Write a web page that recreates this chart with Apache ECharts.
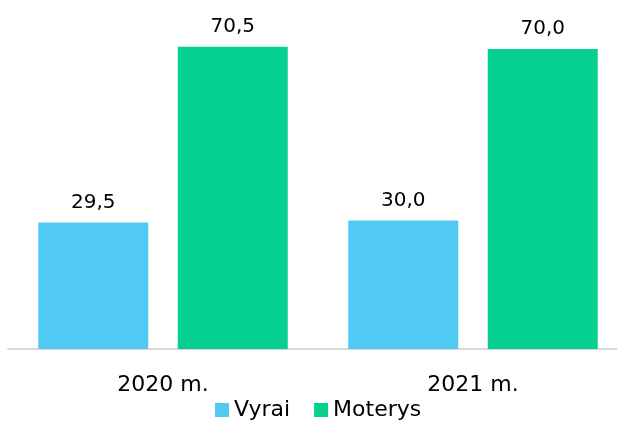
<!DOCTYPE html>
<html>
<head>
<meta charset="utf-8">
<script src="https://cdn.jsdelivr.net/npm/echarts@6/dist/echarts.min.js"></script>
<style>
  html, body { margin: 0; padding: 0; background: #fff; overflow: hidden; }
  #chart { width: 628px; height: 423px; }
</style>
</head>
<body>
<div id="chart"></div>
<script>
// duomenys
const categories = ['2020 m.', '2021 m.'];
const vyrai = [29.5, 30.0];
const moterys = [70.5, 70.0];

const chart = echarts.init(document.getElementById('chart'));

const fmt = (p) => p.value.toFixed(1).replace('.', ',');

const option = {
  animation: false,
  textStyle: { fontFamily: 'DejaVu Sans' },
  legend: {
    left: 215,
    top: 399,
    padding: 0,
    itemWidth: 14,
    itemHeight: 14,
    itemGap: 24,
    icon: 'rect',
    textStyle: { fontSize: 22, color: '#000', fontFamily: 'DejaVu Sans' },
    data: ['Vyrai', 'Moterys'],
  },
  grid: {
    left: 8,
    right: 0,
    top: 6,
    bottom: 74,
  },
  xAxis: {
    type: 'category',
    data: categories,
    axisLine: { lineStyle: { color: '#D9D9D9', width: 2 } },
    axisTick: { show: false },
    axisLabel: {
      fontSize: 22,
      color: '#000',
      margin: 25,
      fontFamily: 'DejaVu Sans',
    },
  },
  yAxis: {
    type: 'value',
    min: 0,
    max: 80,
    show: false,
    splitLine: { show: false },
  },
  series: [
    {
      name: 'Vyrai',
      type: 'bar',
      data: vyrai,
      barWidth: 110,
      barGap: '26.8%',
      itemStyle: { color: '#50C9F3' },
      label: {
        show: true,
        position: 'top',
        distance: 10,
        fontSize: 20,
        color: '#000',
        fontFamily: 'DejaVu Sans',
        formatter: fmt,
      },
    },
    {
      name: 'Moterys',
      type: 'bar',
      data: moterys,
      barWidth: 110,
      itemStyle: { color: '#06CF92' },
      label: {
        show: true,
        position: 'top',
        distance: 10,
        fontSize: 20,
        color: '#000',
        fontFamily: 'DejaVu Sans',
        formatter: fmt,
      },
    },
  ],
};

chart.setOption(option);
</script>
</body>
</html>
